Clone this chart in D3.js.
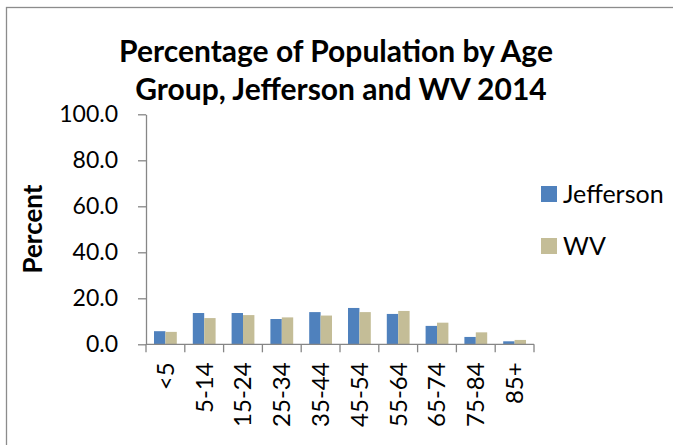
<!DOCTYPE html>
<html>
<head>
<meta charset="utf-8">
<script src="https://cdn.jsdelivr.net/npm/d3@7"></script>
<style>
  html, body { margin: 0; padding: 0; background: #fff; }
  svg { display: block; font-family: Lato, "Open Sans", sans-serif; }
</style>
</head>
<body>
<div id="chart"></div>
<script>
const ageGroups = ['<5', '5-14', '15-24', '25-34', '35-44', '45-54', '55-64', '65-74', '75-84', '85+'];
const seriesNames = ['Jefferson', 'WV'];
const jefferson = [5.7, 13.6, 13.6, 11.0, 14.0, 15.8, 13.2, 8.0, 3.2, 1.3];
const wv = [5.4, 11.4, 12.7, 11.7, 12.5, 14.0, 14.5, 9.4, 5.2, 1.9];
const yTicks = [0, 20, 40, 60, 80, 100];
const colors = ['#4F81BD', '#C4BD97'];

const width = 673, height = 445;
const margin = {top: 114.3, right: 139, bottom: 100.7, left: 146};

const svg = d3.select('#chart').append('svg').attr('width', width).attr('height', height);

// outer chart border (only left and top edges are visible)
svg.append('rect').attr('x', 6.5).attr('y', 7.5).attr('width', 700).attr('height', 500)
  .attr('fill', 'none').attr('stroke', '#8c8c8c').attr('stroke-width', 1.3);

const x0 = d3.scaleBand().domain(ageGroups).range([margin.left, width - margin.right]).padding(0);
const x1 = d3.scaleBand().domain(seriesNames).range([8, x0.bandwidth() - 8]).padding(0);
const y = d3.scaleLinear().domain([0, 100]).range([height - margin.bottom, margin.top]);

const rows = ageGroups.map((g, i) => ({group: g, values: [jefferson[i], wv[i]]}));

svg.append('g').selectAll('g').data(rows).join('g')
  .attr('transform', d => `translate(${x0(d.group)},0)`)
  .selectAll('rect').data(d => d.values.map((v, k) => ({name: seriesNames[k], v, k})))
  .join('rect')
    .attr('x', d => x1(d.name))
    .attr('y', d => y(d.v))
    .attr('width', x1.bandwidth())
    .attr('height', d => y(0) - y(d.v))
    .attr('fill', d => colors[d.k]);

// y axis
const yAxis = svg.append('g').attr('transform', `translate(${margin.left},0)`)
  .call(d3.axisLeft(y).tickValues(yTicks).tickSize(8).tickSizeOuter(0).tickFormat(d3.format('.1f')));
yAxis.select('.domain').attr('stroke', '#868686').attr('stroke-width', 1.3);
yAxis.selectAll('.tick line').attr('stroke', '#868686').attr('stroke-width', 1.3);
yAxis.selectAll('.tick text').attr('x', -28).attr('font-size', 23).attr('fill', '#000')
  .attr('font-family', 'Lato, sans-serif');

// x axis: line, boundary ticks, rotated labels
const xg = svg.append('g').attr('transform', `translate(0,${y(0)})`);
xg.append('line').attr('x1', margin.left).attr('x2', width - margin.right)
  .attr('stroke', '#868686').attr('stroke-width', 1.3);
const bounds = ageGroups.map(g => x0(g)).concat([x0(ageGroups[ageGroups.length - 1]) + x0.bandwidth()]);
xg.selectAll('line.tk').data(bounds).join('line').attr('class', 'tk')
  .attr('x1', d => d).attr('x2', d => d).attr('y1', 0).attr('y2', 8)
  .attr('stroke', '#868686').attr('stroke-width', 1.3);
xg.selectAll('text').data(ageGroups).join('text')
  .attr('transform', d => `translate(${x0(d) + x0.bandwidth() / 2},18) rotate(-90)`)
  .attr('text-anchor', 'end').attr('dy', '0.35em')
  .attr('font-size', 24).attr('fill', '#000')
  .text(d => d);

// title
const title = svg.append('text').attr('text-anchor', 'middle').attr('font-weight', 'bold')
  .attr('font-size', 30).attr('fill', '#000');
title.append('tspan').attr('x', 336).attr('y', 62).text('Percentage of Population by Age');
title.append('tspan').attr('x', 341).attr('y', 100).text('Group, Jefferson and WV 2014');

// y axis title
svg.append('text').attr('transform', 'translate(42,229) rotate(-90)')
  .attr('text-anchor', 'middle').attr('font-weight', 'bold').attr('font-size', 26)
  .text('Percent');

// legend
const legend = svg.append('g').selectAll('g').data(seriesNames).join('g')
  .attr('transform', (d, i) => `translate(541,${186 + i * 52})`);
legend.append('rect').attr('width', 16).attr('height', 16).attr('fill', (d, i) => colors[i]);
legend.append('text').attr('x', 22).attr('y', 8).attr('dy', '0.35em')
  .attr('font-size', 25).text(d => d);
</script>
</body>
</html>
